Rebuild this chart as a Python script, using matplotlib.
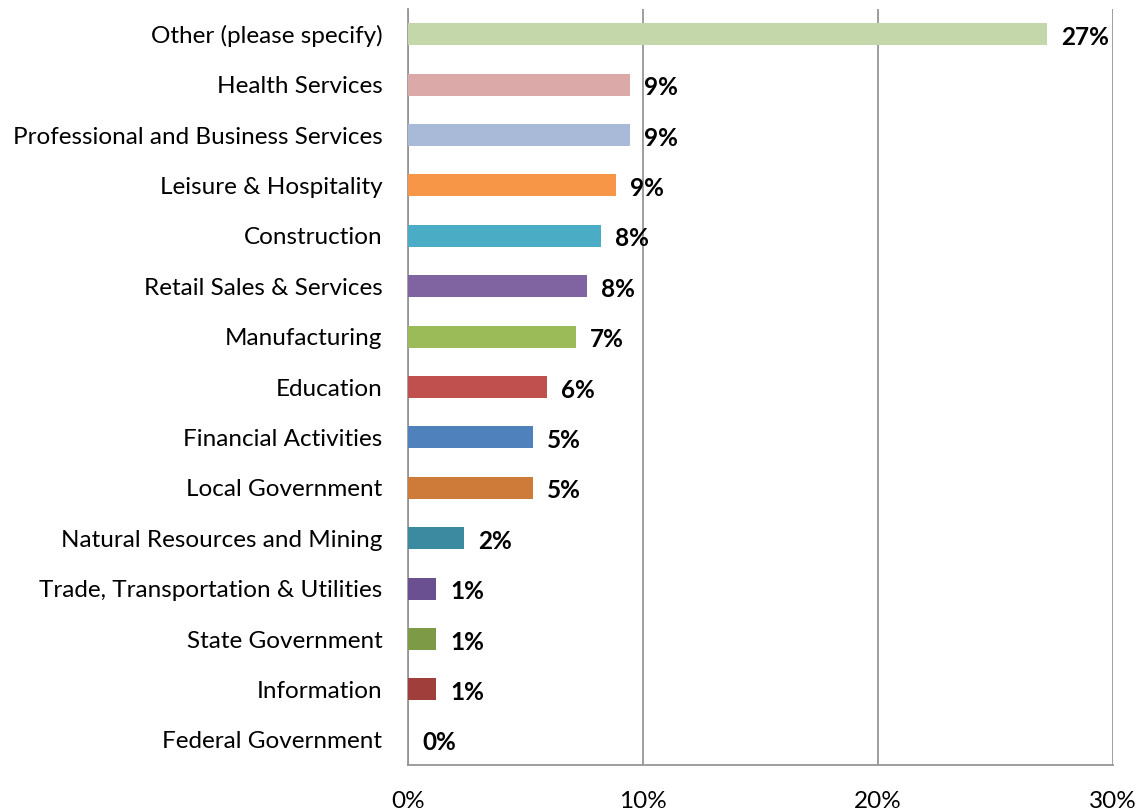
import matplotlib
matplotlib.use("Agg")
import matplotlib.pyplot as plt

categories = ["Other (please specify)", "Health Services", "Professional and Business Services",
              "Leisure & Hospitality", "Construction", "Retail Sales & Services", "Manufacturing",
              "Education", "Financial Activities", "Local Government", "Natural Resources and Mining",
              "Trade, Transportation & Utilities", "State Government", "Information", "Federal Government"]
values = [27.2, 9.45, 9.45, 8.85, 8.2, 7.6, 7.15, 5.9, 5.3, 5.3, 2.4, 1.2, 1.2, 1.2, 0.0]
labels = ["27%", "9%", "9%", "9%", "8%", "8%", "7%", "6%", "5%", "5%", "2%", "1%", "1%", "1%", "0%"]
colors = ["#C4D7AB", "#DBA9A8", "#A9B9D8", "#F79646", "#4BACC6", "#8064A2", "#9BBB59",
          "#C0504D", "#4F81BD", "#CE7A39", "#3B8A9F", "#6A5090", "#7D9B46", "#A03E3B", "#4F81BD"]
xticks = [0, 10, 20, 30]
xticklabels = ["0%", "10%", "20%", "30%"]

plt.rcParams['font.family'] = ['Lato', 'DejaVu Sans']

fig = plt.figure(figsize=(11.43, 8.11), dpi=100)
ax = fig.add_axes([408/1143, 1-765/811, (1113-408)/1143, (765-9)/811])

y = list(range(len(categories)))
ax.barh(y, values, height=0.44, color=colors, zorder=3)
for yi, v, lab in zip(y, values, labels):
    ax.text(v + 0.6, yi + 0.06, lab, va='center', ha='left', fontsize=17.5, fontweight='bold', zorder=4)

ax.set_ylim(len(categories) - 0.5, -0.5)
ax.set_xlim(0, 30)
ax.set_yticks(y)
ax.set_yticklabels(categories, fontsize=17.5)
ax.set_xticks(xticks)
ax.set_xticklabels(xticklabels, fontsize=17.5)
ax.tick_params(axis='both', length=0)
ax.tick_params(axis='y', pad=18.5)
ax.tick_params(axis='x', pad=19)
ax.grid(axis='x', color='#969696', linewidth=1.3, zorder=1)
for s in ['top', 'right']:
    ax.spines[s].set_visible(False)
for s in ['left', 'bottom']:
    ax.spines[s].set_color('#969696')
    ax.spines[s].set_linewidth(1.3)

fig.savefig("out.png", dpi=100)
